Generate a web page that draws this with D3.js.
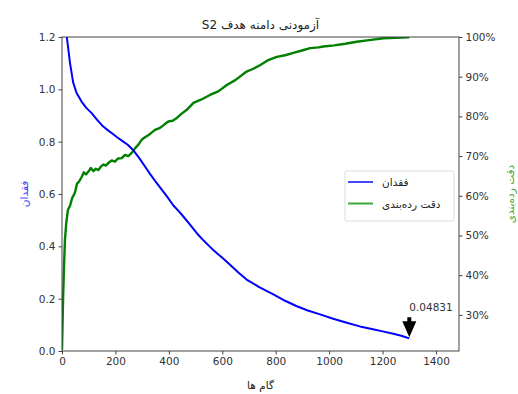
<!DOCTYPE html>
<html>
<head>
<meta charset="utf-8">
<script src="https://cdn.jsdelivr.net/npm/d3@7"></script>
<style>
  body { margin: 0; background: #fff; }
  text { font-family: "DejaVu Sans", sans-serif; }
</style>
</head>
<body>
<svg id="chart" width="518" height="394"></svg>
<script>
// loss curve (left axis)
const lossSteps = [0, 8, 18, 30, 42, 55, 64, 74, 90, 111, 130, 150, 170, 187, 205, 224, 246, 268, 290, 310, 330, 352, 374, 392, 417, 441, 454, 480, 503, 530, 554, 566, 600, 629, 660, 691, 740, 791, 835, 879, 920, 966, 1015, 1066, 1115, 1164, 1200, 1240, 1270, 1300]
const lossValues = [1.48, 1.32, 1.20, 1.10, 1.025, 0.985, 0.97, 0.952, 0.93, 0.909, 0.885, 0.862, 0.845, 0.832, 0.818, 0.804, 0.788, 0.766, 0.736, 0.706, 0.676, 0.645, 0.616, 0.592, 0.556, 0.530, 0.514, 0.482, 0.452, 0.422, 0.398, 0.386, 0.356, 0.330, 0.300, 0.273, 0.243, 0.216, 0.192, 0.171, 0.155, 0.140, 0.123, 0.108, 0.094, 0.083, 0.075, 0.066, 0.058, 0.04831]

// classification accuracy (right axis, %)
const accSteps = [0, 2, 4, 7, 11, 16, 22, 30, 38, 48, 56, 64, 74, 82, 90, 99, 108, 118, 126, 136, 146, 156, 164, 174, 186, 198, 210, 224, 236, 248, 261, 274, 286, 298, 312, 326, 348, 367, 384, 398, 414, 430, 448, 466, 492, 520, 554, 585, 617, 650, 691, 716, 741, 772, 804, 835, 866, 898, 929, 960, 978, 1019, 1060, 1103, 1150, 1203, 1250, 1296, 1300]
const accValues = [21.2, 27.5, 33.8, 41.0, 48.9, 53.2, 56.4, 57.5, 59.4, 60.7, 63.0, 63.6, 64.8, 65.9, 65.4, 66.1, 67.0, 66.2, 66.8, 66.5, 67.4, 67.9, 67.6, 68.3, 68.9, 68.6, 69.4, 69.5, 70.3, 70.0, 70.8, 72.0, 72.9, 74.1, 74.8, 75.4, 76.6, 77.1, 78.0, 78.7, 78.9, 79.6, 80.7, 81.6, 83.4, 84.2, 85.4, 86.3, 87.9, 89.2, 91.3, 92.0, 92.9, 94.2, 95.0, 95.4, 96.0, 96.6, 97.2, 97.4, 97.6, 97.9, 98.3, 98.8, 99.2, 99.7, 99.8, 99.9, 100.0]

const xTicks = [0, 200, 400, 600, 800, 1000, 1200, 1400]
const lossTicks = [0.0, 0.2, 0.4, 0.6, 0.8, 1.0, 1.2]
const accTicks = [30, 40, 50, 60, 70, 80, 90, 100]

const title = "آزمودنی دامنه هدف S2"
const xLabel = "گام ها"
const lossLabel = "فقدان"
const accLabel = "دقت رده‌بندی"
const finalLoss = "0.04831"

const margin = {top: 37, right: 59, bottom: 43, left: 62}
const W = 518, H = 394
const w = W - margin.left - margin.right, h = H - margin.top - margin.bottom

const svg = d3.select("#chart")
const g = svg.append("g").attr("transform", `translate(${margin.left},${margin.top})`)

const x = d3.scaleLinear().domain([0, 1486]).range([0, w])
const yL = d3.scaleLinear().domain([0, 1.2]).range([h, 0])
const yR = d3.scaleLinear().domain([20.9, 100]).range([h, 0])

svg.append("defs").append("clipPath").attr("id", "clip")
  .append("rect").attr("width", w).attr("height", h)

const axisColor = "#444"
function styleAxis(sel) {
  sel.selectAll("path, line").attr("stroke", axisColor)
  sel.selectAll("text").attr("fill", "#333").style("font-size", "10.5px")
  sel.select(".domain").remove()
}

g.append("g").attr("transform", `translate(0,${h})`)
  .call(d3.axisBottom(x).tickValues(xTicks).tickFormat(d3.format("d")).tickSize(3.5).tickPadding(3))
  .call(styleAxis)

g.append("g")
  .call(d3.axisLeft(yL).tickValues(lossTicks).tickFormat(d3.format(".1f")).tickSize(3.5).tickPadding(3))
  .call(styleAxis)

g.append("g").attr("transform", `translate(${w},0)`)
  .call(d3.axisRight(yR).tickValues(accTicks).tickFormat(d => d + "%").tickSize(3.5).tickPadding(3))
  .call(styleAxis)

// lines
const lossLine = d3.line().x((d, i) => x(lossSteps[i])).y(d => yL(d))
const accLine = d3.line().x((d, i) => x(accSteps[i])).y(d => yR(d))

g.append("path").datum(accValues)
  .attr("clip-path", "url(#clip)")
  .attr("d", accLine).attr("fill", "none")
  .attr("stroke", "#008000").attr("stroke-width", 2.4).attr("stroke-linejoin", "round")

g.append("path").datum(lossValues)
  .attr("clip-path", "url(#clip)")
  .attr("d", lossLine).attr("fill", "none")
  .attr("stroke", "#0000ff").attr("stroke-width", 2).attr("stroke-linejoin", "round")

// frame
g.append("rect").attr("width", w).attr("height", h)
  .attr("fill", "none").attr("stroke", axisColor).attr("stroke-width", 1)

// annotation of the last loss value
const lastX = x(lossSteps[lossSteps.length - 1])
const lastY = yL(lossValues[lossValues.length - 1])
g.append("path")
  .attr("d", `M${lastX - 2},${lastY - 21} L${lastX + 2},${lastY - 21} L${lastX + 2},${lastY - 17} L${lastX + 7},${lastY - 17} L${lastX},${lastY - 1} L${lastX - 7},${lastY - 17} L${lastX - 2},${lastY - 17} Z`)
  .attr("fill", "#000")
g.append("text")
  .attr("x", lastX).attr("y", lastY - 27)
  .attr("fill", "#333").style("font-size", "10.5px")
  .text(finalLoss)

// legend
const lg = g.append("g").attr("transform", `translate(${345 - margin.left},${171 - margin.top})`)
lg.append("rect").attr("width", 109).attr("height", 50).attr("rx", 2)
  .attr("fill", "#fff").attr("fill-opacity", 0.8).attr("stroke", "#ddd")
const legendItems = [{label: lossLabel, color: "#4646ff"}, {label: accLabel, color: "#3aa83a"}]
legendItems.forEach((it, i) => {
  const yy = 11 + i * 21.5
  lg.append("line").attr("x1", 3).attr("x2", 28).attr("y1", yy).attr("y2", yy)
    .attr("stroke", it.color).attr("stroke-width", 2)
  lg.append("text").attr("x", 37).attr("y", yy + 4)
    .attr("direction", "ltr").attr("fill", "#222").style("font-size", "10.5px")
    .text(it.label)
})

// titles
svg.append("text").attr("x", margin.left + w / 2).attr("y", 29)
  .attr("direction", "rtl").attr("unicode-bidi", "embed")
  .attr("text-anchor", "middle").attr("fill", "#222").style("font-size", "12px")
  .text(title)

svg.append("text").attr("x", margin.left + w / 2).attr("y", 389)
  .attr("text-anchor", "middle").attr("fill", "#222").style("font-size", "10.5px")
  .text(xLabel)

svg.append("text").attr("transform", `translate(28,${margin.top + h / 2}) rotate(-90)`)
  .attr("text-anchor", "middle").attr("fill", "#4040ff").style("font-size", "10.5px")
  .text(lossLabel)

svg.append("text").attr("transform", `translate(514,${margin.top + h / 2}) rotate(-90)`)
  .attr("text-anchor", "middle").attr("fill", "#3aa83a").style("font-size", "10.5px")
  .text(accLabel)
</script>
</body>
</html>
